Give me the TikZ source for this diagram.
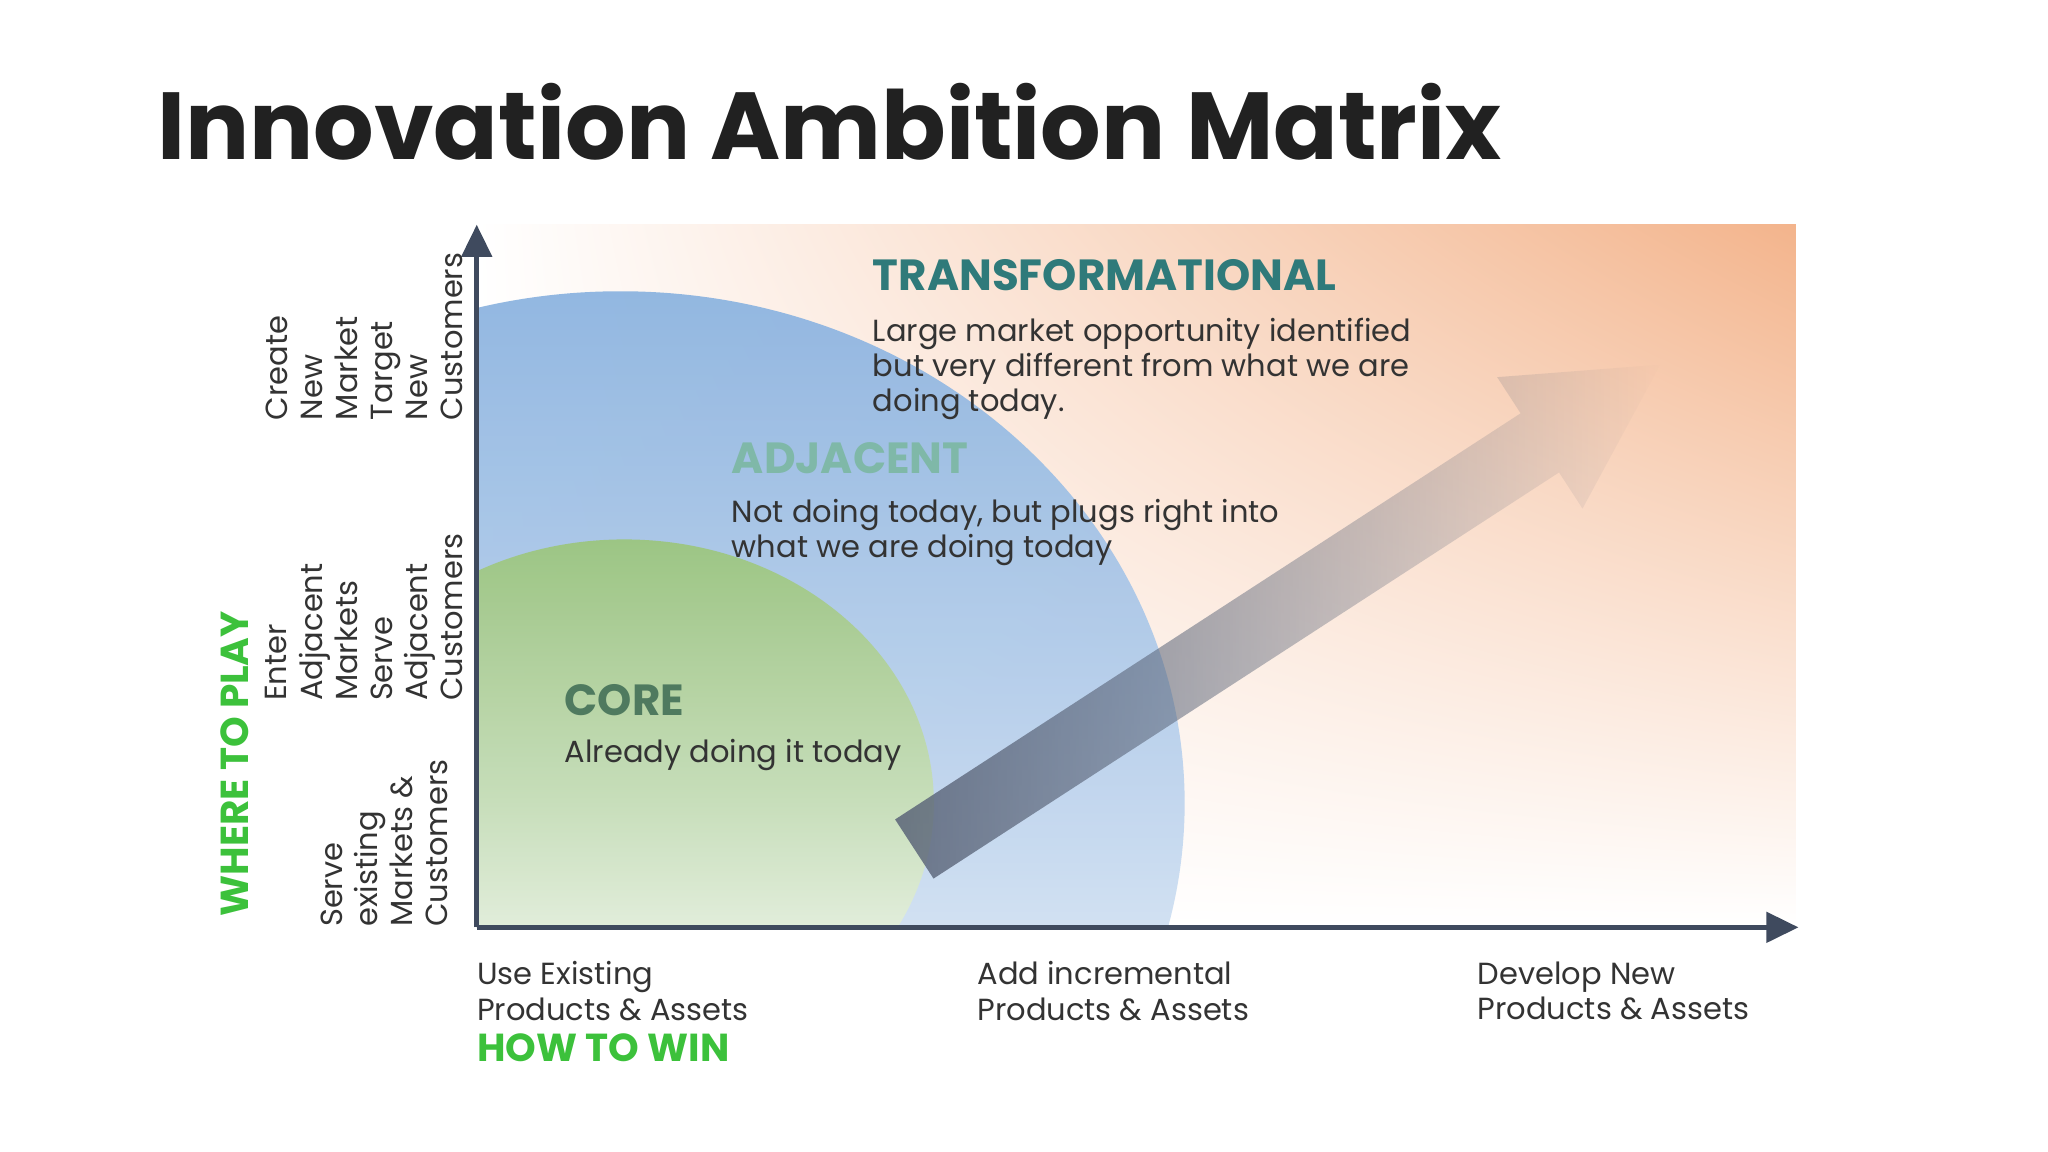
\documentclass[tikz,border=0pt]{standalone}
\usepackage{fontspec}
\setmainfont{Poppins}
\usetikzlibrary{arrows.meta,shadings,fadings}
\definecolor{axis}{HTML}{3F4A5E}
\definecolor{txt}{HTML}{333333}
\definecolor{grn}{HTML}{3CC13B}
\definecolor{teal1}{HTML}{2F7A7A}
\definecolor{teal2}{HTML}{7FB8A8}
\definecolor{teal3}{HTML}{4F7A5F}
\definecolor{org}{HTML}{F3B48C}
\definecolor{blu}{HTML}{8DB4E0}
\definecolor{gre}{HTML}{9CC57F}
\definecolor{slate}{HTML}{5A6478}
\tikzset{
 body/.style={font=\fontsize{13.3}{15.3}\selectfont, text=txt, align=left, inner sep=0pt},
 ylab/.style={body, rotate=90, anchor=north west},
 head/.style={font=\fontsize{19}{22}\selectfont\bfseries, inner sep=0pt, anchor=west},
}
\begin{document}
\begin{tikzpicture}[x=0.02cm,y=0.02cm]
\useasboundingbox (0,0) rectangle (1568,882);
% background gradient
\shade[upper right=org, upper left=white, lower left=white, lower right=white] (365,172) rectangle (1375,710);
% ellipses clipped
\begin{scope}
\clip (365,172) rectangle (1375,710);
\shade[top color=blu, bottom color=white, middle color=blu!55, opacity=0.95] (475,267) ellipse [x radius=432, y radius=392];
\shade[top color=gre, bottom color=white, middle color=gre!55, opacity=0.95] (478,267) ellipse [x radius=237, y radius=202];
\end{scope}
% big arrow
\begin{scope}[shift={(700,232)}, rotate=33]
\fill[slate, opacity=0.85, path fading=east]
 (0,-27) -- (571,-27) -- (571,-60) -- (681,0) -- (571,60) -- (571,27) -- (0,27) -- cycle;
\end{scope}
% axes
\coordinate (o) at (365,172);
\coordinate (yt) at (365,710);
\coordinate (xr) at (1377,172);
\draw[axis, line width=2.3pt, -{Triangle[length=14pt,width=13pt]}] (o) -- (yt);
\draw[axis, line width=2.3pt, -{Triangle[length=14pt,width=13pt]}] (o) -- (xr);
% title
\node[anchor=base west, inner sep=0pt, font=\fontsize{41.5}{45}\selectfont\bfseries, text=black!87] (title) at (120,760) {Innovation Ambition Matrix};
% y labels
\node[ylab] (y1) at (203,560) {Create\\New\\Market\\Target\\New\\Customers};
\node[ylab] (y2) at (203,345) {Enter\\Adjacent\\Markets\\Serve\\Adjacent\\Customers};
\node[ylab] (y3) at (245,172) {Serve\\existing\\Markets \&\\Customers};
\node[rotate=90, anchor=north west, inner sep=0pt, font=\fontsize{17}{20}\selectfont\bfseries, text=grn] (wtp) at (169,180) {WHERE TO PLAY};
% x labels
\node[body, anchor=north west] (x1) at (365,146) {Use Existing\\Products \& Assets};
\node[body, anchor=north west] (x2) at (748,146) {Add incremental\\Products \& Assets};
\node[body, anchor=north west] (x3) at (1131,146) {Develop New\\Products \& Assets};
\node[anchor=west, inner sep=0pt, font=\fontsize{17}{20}\selectfont\bfseries, text=grn] (htw) at (365,80) {HOW TO WIN};
% region texts
\node[head, text=teal1] (tr) at (668,671) {TRANSFORMATIONAL};
\node[body, anchor=north west] (trd) at (668,639) {Large market opportunity identified\\but very different from what we are\\doing today.};
\node[head, text=teal2] (ad) at (560,531) {ADJACENT};
\node[body, anchor=north west] (add) at (560,500) {Not doing today, but plugs right into\\what we are doing today};
\node[head, text=teal3] (co) at (432,346) {CORE};
\node[body, anchor=north west] (cod) at (432,316) {Already doing it today};
\end{tikzpicture}
\end{document}
